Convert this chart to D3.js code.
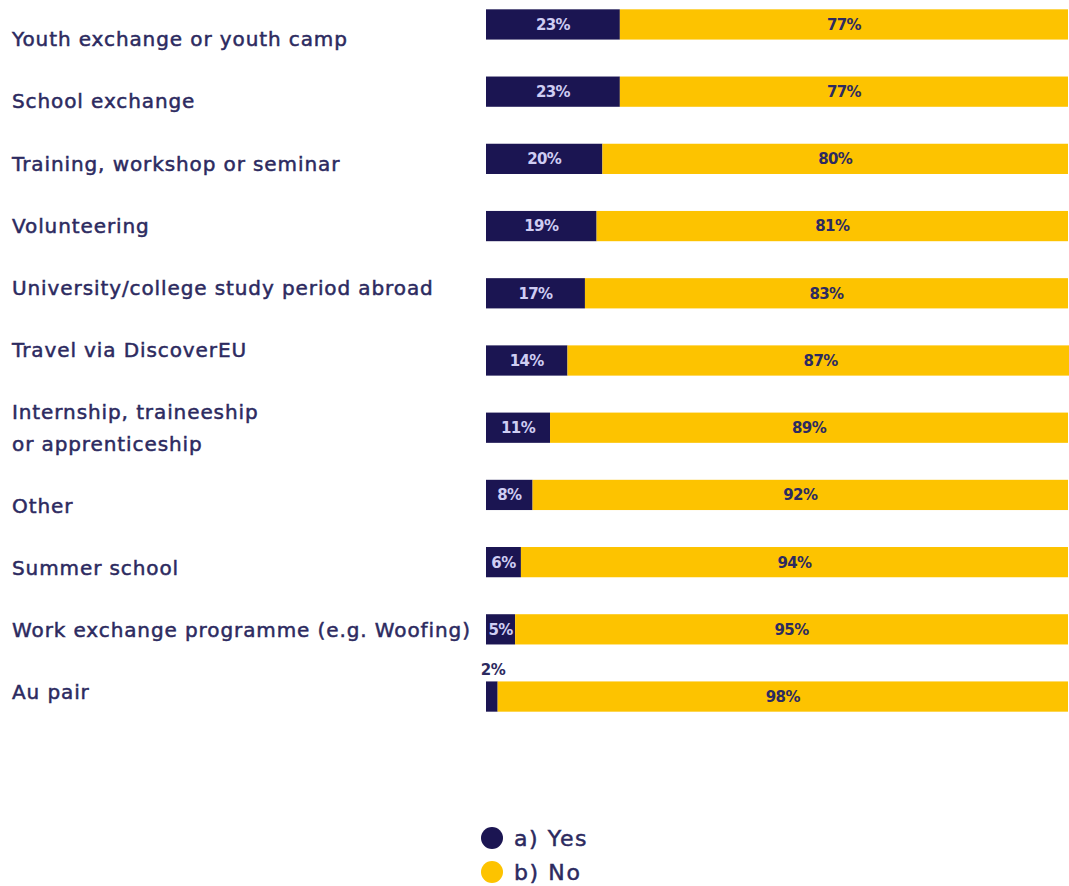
<!DOCTYPE html>
<html>
<head>
<meta charset="utf-8">
<script src="https://cdn.jsdelivr.net/npm/d3@7"></script>
<style>
  html, body { margin: 0; padding: 0; background: #ffffff; }
  svg { display: block; }
  text { font-family: "DejaVu Sans", sans-serif; }
</style>
</head>
<body>
<svg id="chart" width="1069" height="886"></svg>
<script>
// Participation in mobility activities
const categories = [
  "Youth exchange or youth camp",
  "School exchange",
  "Training, workshop or seminar",
  "Volunteering",
  "University/college study period abroad",
  "Travel via DiscoverEU",
  "Internship, traineeship\nor apprenticeship",
  "Other",
  "Summer school",
  "Work exchange programme (e.g. Woofing)",
  "Au pair"
];
const yesValues = [23, 23, 20, 19, 17, 14, 11, 8, 6, 5, 2];
const noValues  = [77, 77, 80, 81, 83, 87, 89, 92, 94, 95, 98];
const seriesNames = ["a) Yes", "b) No"];

const NAVY = "#1b1552";
const GOLD = "#fdc300";
const LABEL = "#2c2a60";

const svg = d3.select("#chart");

const rows = categories.map((c, i) => ({ name: c, yes: yesValues[i], no: noValues[i] }));

const x = d3.scaleLinear().domain([0, 100]).range([486, 1068]);
const y = d3.scaleBand().domain(d3.range(rows.length)).range([-9.5, 730.5]).paddingInner(0.55).paddingOuter(0.28);

const stack = d3.stack().keys(["yes", "no"]);
const layers = stack(rows);
const colors = [NAVY, GOLD];

const g = svg.append("g");

layers.forEach((layer, k) => {
  g.selectAll(null)
    .data(layer)
    .join("rect")
    .attr("x", d => x(d[0]))
    .attr("y", (d, i) => y(i))
    .attr("width", d => x(d[1]) - x(d[0]))
    .attr("height", y.bandwidth())
    .attr("fill", colors[k]);
});

// value labels; a segment too narrow for its label gets it above the bar
layers.forEach((layer, k) => {
  g.selectAll(null)
    .data(layer)
    .join("text")
    .attr("x", (d, i) => {
      const w = x(d[1]) - x(d[0]);
      return (k === 0 && w < 20) ? x(d[0]) + 7 : (x(d[0]) + x(d[1])) / 2;
    })
    .attr("y", (d, i) => {
      const w = x(d[1]) - x(d[0]);
      return (k === 0 && w < 20) ? y(i) - 12 : y(i) + y.bandwidth() / 2;
    })
    .attr("dy", "0.36em")
    .attr("text-anchor", "middle")
    .attr("font-family", "'DejaVu Sans Condensed', 'DejaVu Sans', sans-serif")
    .attr("font-size", 15)
    .attr("font-weight", 700)
    .attr("letter-spacing", "-0.6")
    .attr("fill", (d, i) => {
      const w = x(d[1]) - x(d[0]);
      if (k === 0) return w < 20 ? LABEL : "#cfcdf3";
      return LABEL;
    })
    .text(d => (d[1] - d[0]) + "%");
});

// category labels, laid out as a list of lines
let line = 0;
const lineStep = 31.1;
rows.forEach(r => {
  const parts = r.name.split("\n");
  parts.forEach((p, j) => {
    svg.append("text")
      .attr("x", 12)
      .attr("y", 39 + (line + j) * lineStep)
      .attr("dy", "0.36em")
      .attr("font-size", 20)
      .attr("letter-spacing", "0.9")
      .attr("fill", LABEL)
      .attr("stroke", LABEL)
      .attr("stroke-width", 0.5)
      .text(p);
  });
  line += parts.length + 1;
});

// legend
const legend = svg.append("g");
seriesNames.forEach((s, i) => {
  const cy = 838 + i * 34;
  legend.append("circle").attr("cx", 492).attr("cy", cy).attr("r", 11).attr("fill", colors[i]);
  legend.append("text")
    .attr("x", 514).attr("y", cy).attr("dy", "0.36em")
    .attr("font-size", 22).attr("letter-spacing", "1.6").attr("fill", LABEL)
    .attr("stroke", LABEL).attr("stroke-width", 0.5)
    .text(s);
});
</script>
</body>
</html>
